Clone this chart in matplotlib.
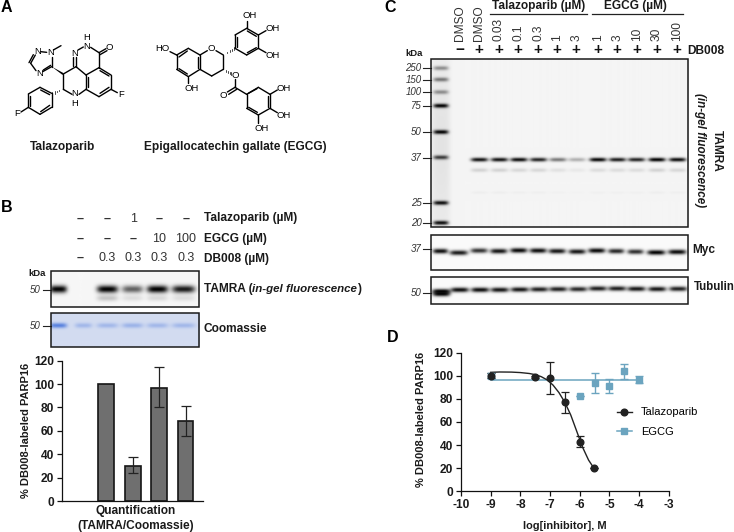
import matplotlib
matplotlib.use("Agg")
import matplotlib.pyplot as plt
from matplotlib.patches import Rectangle, Polygon
import numpy as np

plt.rcParams['font.family'] = ['Liberation Sans', 'DejaVu Sans']

# panel B table
b_talazoparib = ['–', '–', '1', '–', '–']
b_egcg = ['–', '–', '–', '10', '100']
b_db008 = ['–', '0.3', '0.3', '0.3', '0.3']

# panel B gels, band strength per lane (marker first)
b_tamra = [1.0, 0.0, 1.0, 0.6, 1.0, 0.9]
b_tamra_low = [0.0, 0.0, 0.2, 0.1, 0.12, 0.1]
b_coomassie = [1.0, 0.4, 0.4, 0.45, 0.4, 0.4]

# panel B bars
bar_x = [1, 2, 3, 4]
bar_values = [100, 30, 97, 68]
bar_err_low = [0, 6, 17, 12]
bar_err_high = [0, 8, 18, 13]

# panel C labels
c_top_labels = ['DMSO', 'DMSO', '0.03', '0.1', '0.3', '1', '3', '1', '3', '10', '30', '100']
c_db008 = ['−', '+', '+', '+', '+', '+', '+', '+', '+', '+', '+', '+']
ladder_kda = ['250', '150', '100', '75', '50', '37', '25', '20']
ladder_strength = [0.4, 0.5, 0.4, 1.0, 1.0, 0.75, 0.95, 0.95]

# panel C gels, band strength per lane
c_tamra = [0.0, 0.92, 0.92, 0.95, 0.85, 0.5, 0.28, 0.97, 0.88, 0.85, 1.0, 0.95]
c_tamra_low = [0.0, 0.14, 0.14, 0.12, 0.12, 0.08, 0.05, 0.1, 0.1, 0.1, 0.14, 0.12]
c_myc = [0.95, 0.9, 0.8, 0.92, 0.97, 0.95, 0.92, 0.92, 0.97, 0.85, 0.82, 1.0, 0.97]
c_myc_kda = [0.0, 1.6, -0.5, 0.0, -0.7, -0.5, 0.0, 0.5, -0.5, 0.0, 0.6, 1.3, 0.8]
c_tubulin = [1.0, 0.95, 0.95, 0.92, 0.92, 0.88, 0.88, 0.85, 0.88, 0.88, 0.92, 0.92, 0.88]
c_tubulin_kda = [1.5, 0.0, 0.0, 0.0, -0.3, -0.5, -0.7, -0.7, -1.3, -1.3, -1.0, -0.8, -1.0]

# panel D
tala_x = [-9, -7.5, -7, -6.5, -6, -5.52]
tala_y = [100, 99, 98, 77, 43, 20]
tala_err = [2, 1, 14, 9, 4.5, 0]
tala_fit_x = [-9, -8.7, -8.3, -8, -7.7, -7.5, -7.3, -7.1, -6.9, -6.7, -6.5, -6.3, -6.1, -5.9, -5.7, -5.52]
tala_fit_y = [103, 103.3, 103.2, 102.8, 102, 101, 99.3, 96.5, 92, 85.5, 77, 66, 52, 38, 27, 20]
egcg_x = [-9, -6, -5.5, -5, -4.5, -4]
egcg_y = [100, 82.5, 94, 91.5, 104, 96.5]
egcg_err = [2, 0, 8.5, 6, 6.5, 3]
egcg_fit_x = [-9, -4]
egcg_fit_y = [96, 96]

# panel A drawn structures, pixel positions at 3x
tala_bonds = [((106, 165), (92, 190)), ((92, 190), (108, 212)), ((128, 215), (155, 200)),
              ((155, 200), (155, 172)), ((122, 155), (140, 157)), ((160, 150), (183, 137)),
              ((190, 222), (228, 200)), ((190, 222), (190, 268)), ((190, 268), (216, 283)),
              ((237, 283), (258, 268)), ((228, 200), (228, 172)), ((228, 200), (258, 225)),
              ((234, 150), (250, 141)), ((272, 142), (297, 158)), ((297, 158), (297, 203)),
              ((297, 158), (318, 146)), ((297, 203), (333, 225)), ((333, 225), (333, 268)),
              ((333, 268), (297, 290)), ((297, 290), (258, 268)), ((258, 268), (258, 225)),
              ((258, 225), (297, 203)), ((333, 268), (352, 278)), ((155, 280), (155, 322)),
              ((155, 322), (120, 343)), ((120, 343), (85, 322)), ((85, 322), (85, 282)),
              ((85, 282), (120, 262)), ((120, 262), (155, 280)), ((85, 322), (63, 336))]
tala_double = [((100, 164), (87, 188)), ((220, 198), (220, 172)), ((300, 164), (321, 152)),
               ((300, 212), (327, 228)), ((327, 262), (300, 280)), ((264, 230), (264, 262)),
               ((149, 316), (122, 335)), ((91, 318), (91, 287)), ((122, 270), (149, 284)),
               ((130, 210), (152, 196))]
egcg_bonds = [((530, 165), (565, 145)), ((565, 145), (600, 165)), ((600, 165), (600, 208)),
              ((600, 208), (565, 230)), ((565, 230), (530, 208)), ((530, 208), (530, 165)),
              ((510, 155), (530, 165)), ((565, 230), (565, 250)), ((600, 165), (622, 152)),
              ((648, 152), (670, 165)), ((670, 165), (670, 208)), ((670, 208), (635, 228)),
              ((635, 228), (600, 208)), ((705, 105), (740, 85)), ((740, 85), (775, 105)),
              ((775, 105), (775, 145)), ((775, 145), (740, 165)), ((740, 165), (705, 145)),
              ((705, 145), (705, 105)), ((740, 85), (740, 62)), ((775, 105), (798, 92)),
              ((775, 145), (798, 158)), ((705, 237), (705, 262)), ((705, 262), (682, 276)),
              ((705, 262), (740, 283)), ((740, 283), (775, 262)), ((775, 262), (810, 283)),
              ((810, 283), (810, 325)), ((810, 325), (775, 345)), ((775, 345), (740, 325)),
              ((740, 325), (740, 283)), ((810, 283), (832, 270)), ((810, 325), (832, 338)),
              ((775, 345), (775, 368))]
egcg_double = [((537, 171), (562, 153)), ((594, 170), (594, 204)), ((537, 206), (562, 222)),
               ((711, 142), (711, 110)), ((742, 93), (769, 109)), ((769, 143), (742, 158)),
               ((710, 268), (686, 283)), ((745, 280), (771, 266)), ((804, 288), (804, 320)),
               ((772, 337), (746, 322))]
tala_atoms = [('N', 112, 155), ('N', 152, 158), ('N', 118, 220), ('N', 224, 160), ('H', 261, 112),
              ('N', 261, 140), ('O', 329, 142), ('F', 362, 283), ('N', 225, 280), ('H', 225, 309),
              ('F', 52, 342)]
egcg_atoms = [('HO', 488, 145), ('OH', 575, 265), ('O', 635, 145), ('OH', 750, 45), ('OH', 818, 85),
              ('OH', 818, 165), ('O', 705, 225), ('O', 669, 285), ('OH', 852, 265), ('OH', 852, 345),
              ('OH', 785, 385)]


def gel(ax, box, bands, bg, ink):
    # box = left, top, right, bottom in pixels, bands = x, y, w, h, strength
    l, t, r, b = box
    xs = np.linspace(l, r, int((r - l) * 3))
    ys = np.linspace(t, b, int((b - t) * 3))
    xx, yy = np.meshgrid(xs, ys)
    clear = np.ones_like(xx)
    for x, y, w, h, s in bands:
        prof = np.exp(-np.abs((xx - x) / (w / 2)) ** 4) * np.exp(-((yy - y) / (h / 2)) ** 2)
        clear *= 1 - s * prof
    bg = np.array(matplotlib.colors.to_rgb(bg))
    ink = np.array(matplotlib.colors.to_rgb(ink))
    img = bg[None, None, :] * clear[:, :, None] + ink[None, None, :] * (1 - clear[:, :, None])
    ax.imshow(img, extent=(l, r, b, t), aspect='auto', interpolation='bilinear', zorder=1)
    ax.add_patch(Rectangle((l, t), r - l, b - t, fill=False, ec='#1a1a1a', lw=1.1, zorder=3))


fig = plt.figure(figsize=(7.34, 5.32), dpi=100)
bg = fig.add_axes([0, 0, 1, 1])
bg.axis('off')

BOLD = dict(fontweight='bold', fontsize=8.6, color='#1a1a1a', va='center')
PLAIN = dict(fontsize=9, color='#333333', va='center', ha='center')
KDA = dict(fontstyle='italic', fontsize=7, color='#333333', va='center', ha='right')

# panel letters
for s, x, y in [('A', 1, 8), ('B', 1, 207), ('C', 384, 8), ('D', 387, 337)]:
    bg.text(x, y, s, fontsize=11.5, fontweight='bold', va='center', color='black')

# panel A
for bonds in [tala_bonds, tala_double, egcg_bonds, egcg_double]:
    for p, q in bonds:
        bg.plot([p[0] / 3, q[0] / 3], [p[1] / 3, q[1] / 3], color='black', lw=1.0, solid_capstyle='round')
for atoms in [tala_atoms, egcg_atoms]:
    for s, x, y in atoms:
        bg.text(x / 3, y / 3, s, fontsize=6.8, ha='center', va='center', color='black')
bg.add_patch(Polygon([(155 / 3, 200 / 3), (190 / 3, 219 / 3), (188 / 3, 225 / 3)], color='black', lw=0))
for (a, c) in [((190, 268), (155, 280)), ((670, 165), (705, 145)), ((670, 208), (695, 222))]:
    for f in np.linspace(0.15, 0.95, 5):
        mx = a[0] + (c[0] - a[0]) * f
        my = a[1] + (c[1] - a[1]) * f
        bg.plot([mx / 3, mx / 3], [(my - 5 * f) / 3, (my + 5 * f) / 3], color='black', lw=0.5)
bg.text(63, 147, 'Talazoparib', ha='center', **BOLD)
bg.text(235.5, 147, 'Epigallocatechin gallate (EGCG)', ha='center', **BOLD)

# panel B table
b_cols = [80, 106.7, 133.3, 159.3, 186]
for row, y in zip([b_talazoparib, b_egcg, b_db008], [219, 239, 258]):
    for s, x in zip(row, b_cols):
        if s == '–':
            bg.text(x, y, s, fontweight='bold', **PLAIN)
        else:
            bg.text(x, y, s, **PLAIN)
bg.text(204, 218, 'Talazoparib (µM)', **BOLD)
bg.text(204, 239, 'EGCG (µM)', **BOLD)
bg.text(204, 259, 'DB008 (µM)', **BOLD)

# panel B gels
b_lanes = [58, 83, 107, 132, 157, 183]
b_w = [17, 17, 21, 21, 21, 23]
bands = [(x, 289, w, 7.5, s) for x, w, s in zip(b_lanes, b_w, b_tamra)]
bands += [(x, 298, w, 6, s) for x, w, s in zip(b_lanes, b_w, b_tamra_low)]
gel(bg, (50.7, 271, 199.3, 306.7), bands, '#f7f7f7', '#000000')
bands = [(x, 325.5, w, 5, s * 0.75) for x, w, s in zip(b_lanes, b_w, b_coomassie)]
gel(bg, (50.7, 313.3, 199.3, 346.7), bands, '#d3dcf1', '#2f63d8')
bg.text(37, 274, 'kDa', ha='center', fontsize=6.8, fontweight='bold', color='#1a1a1a', va='center')
for y in [290, 326]:
    bg.text(41, y, '50', **KDA)
    bg.plot([43, 51], [y, y], color='#222222', lw=0.8)
bg.text(204, 289, 'TAMRA (', **BOLD)
bg.text(252.5, 289, 'in-gel fluorescence', fontstyle='italic', **{**BOLD, 'fontsize': 8.25})
bg.text(357.5, 289, ')', **BOLD)
bg.text(204, 329, 'Coomassie', **BOLD)

# panel C header
c_lanes = [460, 479, 498.7, 518.3, 538.3, 557.3, 576.3, 598, 617.3, 636.7, 656.7, 677.3]
for s, x in zip(c_top_labels, c_lanes):
    bg.text(x, 41, s, rotation=90, ha='center', va='bottom', fontsize=8.6, color='#333333')
for s, x in zip(c_db008, c_lanes):
    bg.text(x, 50.3, s, ha='center', va='center', fontsize=11, fontweight='bold', color='#111111')
bg.text(687.5, 51, 'DB008', **BOLD)
bg.text(414.5, 54, 'kDa', ha='center', fontsize=6.8, fontweight='bold', color='#1a1a1a', va='center')
bg.text(539, 6, 'Talazoparib (µM)', ha='center', **BOLD)
bg.text(635.5, 6.5, 'EGCG (µM)', ha='center', **BOLD)
bg.plot([490, 586.7], [14, 14], color='#222222', lw=0.9)
bg.plot([591.7, 682.7], [14, 14], color='#222222', lw=0.9)

# panel C gels
c_band_x = [458.5, 479, 499, 518.5, 538, 557.5, 576.5, 597.5, 617, 636, 656.5, 677]
ladder_y = [68.3, 79.7, 92.3, 106, 132.3, 157.7, 203.3, 223.3]
main_box = (430.7, 59.3, 688.3, 227.3)
bands = [(440.5, y, 15, 4.2, s) for y, s in zip(ladder_y, ladder_strength)]
bands += [(x, 160, 17, 4, s) for x, s in zip(c_band_x, c_tamra)]
bands += [(x, 170.5, 17, 4, s) for x, s in zip(c_band_x, c_tamra_low)]
bands += [(x, 193, 17, 3, s * 0.2) for x, s in zip(c_band_x, c_tamra_low)]
bands += [(440.5, 145, 19, 220, 0.07)]
gel(bg, main_box, bands, '#f5f5f5', '#000000')
for s, y in zip(ladder_kda, ladder_y):
    bg.text(421.5, y, s, **KDA)
    bg.plot([423, 431], [y, y], color='#222222', lw=0.8)

myc_lanes = [440] + [458.3, 478.7, 498.3, 518.3, 537.7, 556.7, 576.7, 596.3, 615.7, 635, 655.7, 676.7]
myc_w = [15, 18, 17, 17, 17, 17, 17, 17, 17, 16, 16, 18, 18]
bands = [(x, 251.5 + d, w, 4.8, s) for x, w, s, d in zip(myc_lanes, myc_w, c_myc, c_myc_kda)]
gel(bg, (430.7, 234.7, 688.3, 270), bands, '#fbfbfb', '#000000')
bands = [(x + 1, 290 + d, 18, 4.8, s) for x, s, d in zip(myc_lanes, c_tubulin, c_tubulin_kda)]
bands += [(441, 294, 17, 5, 1.0)]
gel(bg, (430.7, 277.3, 688.3, 304), bands, '#fbfbfb', '#000000')
for s, y in [('37', 249), ('50', 293.3)]:
    bg.text(421.5, y, s, **KDA)
    bg.plot([423, 431], [y, y], color='#222222', lw=0.8)

bg.text(716.5, 151, 'TAMRA', rotation=270, ha='center', **BOLD)
bg.text(700, 150, '(in-gel fluorescence)', rotation=270, ha='center', fontstyle='italic',
        **{**BOLD, 'fontsize': 8.4})
bg.text(692.5, 250, 'Myc', **BOLD)
bg.text(694, 287.5, 'Tubulin', **{**BOLD, 'fontsize': 8.3})

bg.set_xlim(0, 734)
bg.set_ylim(532, 0)


def chart_axes(left, top, right, bottom):
    ax = fig.add_axes([left / 734, (532 - bottom) / 532, (right - left) / 734, (bottom - top) / 532])
    ax.patch.set_alpha(0)
    for side in ['top', 'right']:
        ax.spines[side].set_visible(False)
    for side in ['left', 'bottom']:
        ax.spines[side].set_linewidth(0.9)
        ax.spines[side].set_color('#111111')
    ax.tick_params(width=0.9, length=3.5, color='#111111', pad=2)
    ax.set_ylim(0, 120)
    ax.set_yticks(range(0, 121, 20))
    return ax


def bold_ticks(ax):
    for lab in ax.get_xticklabels() + ax.get_yticklabels():
        lab.set_fontweight('bold')
        lab.set_fontsize(8.6)
        lab.set_color('#1a1a1a')


# panel B bars
ax = chart_axes(62, 360.7, 203, 501)
ax.bar(bar_x, bar_values, width=0.6, color='#6f6f6f', edgecolor='#151515', linewidth=1.2)
ax.errorbar(bar_x[1:], bar_values[1:], yerr=[bar_err_low[1:], bar_err_high[1:]], fmt='none',
            ecolor='#222222', elinewidth=0.9, capsize=3.5, capthick=0.9)
ax.set_xlim(-0.68, 4.66)
ax.set_xticks([])
bold_ticks(ax)
ax.set_ylabel('% DB008-labeled PARP16', fontsize=8, fontweight='bold', color='#1a1a1a', labelpad=2)
ax.set_xlabel('Quantification\n(TAMRA/Coomassie)', fontsize=8.6, fontweight='bold', color='#1a1a1a',
              labelpad=3, linespacing=1.35, x=0.521)

# panel D
ax = chart_axes(461, 352.7, 668.7, 491.3)
ax.plot(egcg_fit_x, egcg_fit_y, color='#6ba4bf', lw=1.1)
ax.errorbar(egcg_x, egcg_y, yerr=egcg_err, fmt='s', color='#6ba4bf', ms=5, elinewidth=1, capsize=3, capthick=1,
            clip_on=False)
ax.plot(tala_fit_x, tala_fit_y, color='#222222', lw=1)
ax.errorbar(tala_x, tala_y, yerr=tala_err, fmt='o', color='#222222', ms=4.8, elinewidth=0.9, capsize=3, capthick=0.9,
            clip_on=False)
ax.plot([], [], '-o', color='#222222', ms=4.8, lw=1, label='Talazoparib')
ax.plot([], [], '-s', color='#6ba4bf', ms=5, lw=1.1, label='EGCG')
ax.set_xlim(-10, -3)
ax.set_xticks(range(-10, -2))
ax.set_xticklabels([str(v) for v in range(-10, -2)])
bold_ticks(ax)
ax.set_ylabel('% DB008-labeled PARP16', fontsize=8, fontweight='bold', color='#1a1a1a', labelpad=5, y=0.52)
ax.set_xlabel('log[inhibitor], M', fontsize=7.9, fontweight='bold', color='#1a1a1a', labelpad=7)
leg = ax.legend(loc='upper left', bbox_to_anchor=(0.75, 0.605), frameon=False, fontsize=8, labelspacing=0.88,
                handlelength=1.35, handletextpad=0.8, borderaxespad=0, borderpad=0)

fig.savefig('out.png', dpi=100)
